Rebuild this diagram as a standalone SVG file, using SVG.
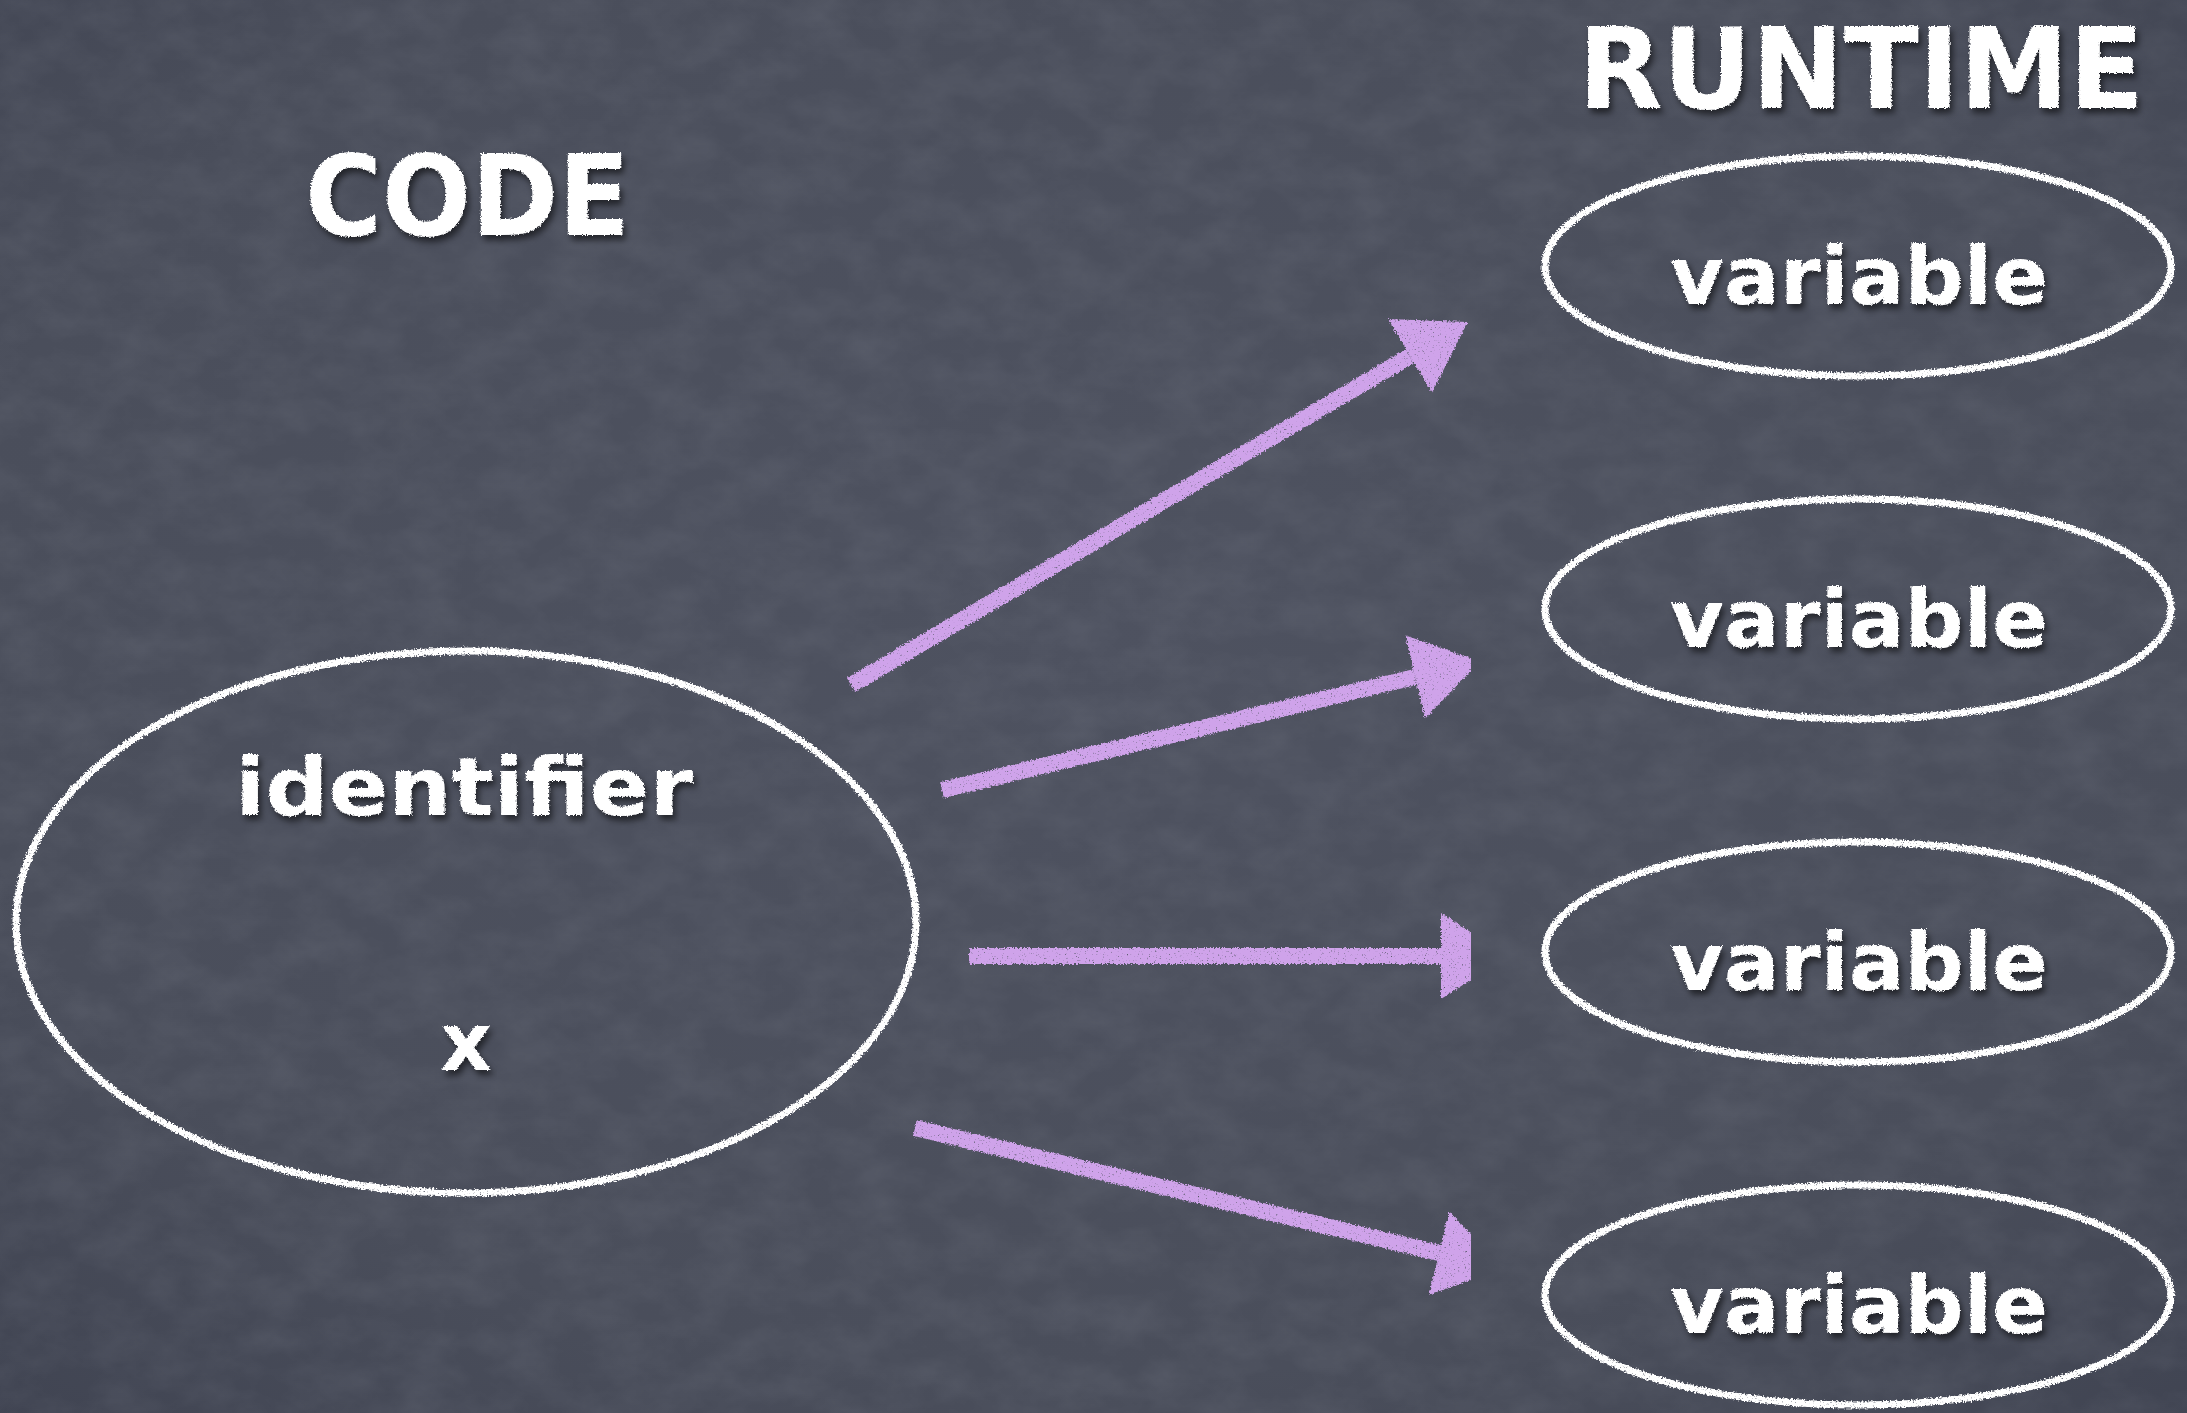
<svg xmlns="http://www.w3.org/2000/svg" width="2187" height="1413" viewBox="0 0 2187 1413">
  <defs>
    <radialGradient id="board" cx="0.5" cy="0.45" r="0.75">
      <stop offset="0" stop-color="#4e5260"/>
      <stop offset="0.7" stop-color="#4a4e5b"/>
      <stop offset="1" stop-color="#404452"/>
    </radialGradient>
    <!-- faint mottled slate texture -->
    <filter id="slate" x="0" y="0" width="100%" height="100%">
      <feTurbulence type="fractalNoise" baseFrequency="0.02 0.03" numOctaves="4" seed="7" result="n"/>
      <feColorMatrix in="n" type="matrix" values="0 0 0 0 0.72  0 0 0 0 0.75  0 0 0 0 0.82  0.12 0 0 0 -0.04"/>
    </filter>
    <!-- rough chalk edge for strokes -->
    <filter id="chalk" x="-5%" y="-5%" width="110%" height="110%">
      <feTurbulence type="fractalNoise" baseFrequency="0.55" numOctaves="2" seed="3" result="n"/>
      <feDisplacementMap in="SourceGraphic" in2="n" scale="5" xChannelSelector="R" yChannelSelector="G" result="d"/>
      <feColorMatrix in="n" type="matrix" values="0 0 0 0 0  0 0 0 0 0  0 0 0 0 0  -4 0 0 0 3.6" result="holes"/>
      <feComposite in="d" in2="holes" operator="in"/>
    </filter>
    <!-- chalk lettering with a soft shadow under it -->
    <filter id="chalkText" x="-10%" y="-20%" width="120%" height="150%">
      <feTurbulence type="fractalNoise" baseFrequency="0.6" numOctaves="2" seed="5" result="n"/>
      <feDisplacementMap in="SourceGraphic" in2="n" scale="3.5" xChannelSelector="R" yChannelSelector="G" result="d"/>
      <feGaussianBlur in="d" stdDeviation="3" result="b"/>
      <feOffset in="b" dx="3" dy="5" result="o"/>
      <feColorMatrix in="o" type="matrix" values="0 0 0 0 0  0 0 0 0 0  0 0 0 0 0  0 0 0 0.55 0" result="sh"/>
      <feMerge>
        <feMergeNode in="sh"/>
        <feMergeNode in="d"/>
      </feMerge>
    </filter>
    <marker id="head" markerUnits="userSpaceOnUse" markerWidth="72" markerHeight="92" viewBox="0 -46 72 92" refX="0" refY="0" orient="auto">
      <path d="M0,-43 L67,0 L0,43 Z" fill="#cfa3ea"/>
    </marker>
    <style>
      .ring { fill: none; stroke: #ffffff; stroke-width: 7; filter: url(#chalk); }
      .word { fill: #ffffff; font-family: "DejaVu Sans", "Noto Sans", sans-serif; font-weight: bold; filter: url(#chalkText); }
      .title { font-size: 112px; }
      .label { font-size: 80px; text-anchor: middle; }
      .arrow { fill: none; stroke: #cfa3ea; stroke-width: 16; marker-end: url(#head); }
    </style>
  </defs>

  <!-- chalkboard -->
  <rect width="2187" height="1413" fill="url(#board)"/>
  <rect width="2187" height="1413" filter="url(#slate)"/>

  <!-- headings -->
  <text class="word title" x="305" y="235" textLength="325" lengthAdjust="spacingAndGlyphs">CODE</text>
  <text class="word title" x="1578" y="108" textLength="566" lengthAdjust="spacingAndGlyphs">RUNTIME</text>

  <!-- source-side node -->
  <g id="identifier">
    <ellipse class="ring" cx="466" cy="922" rx="450" ry="271"/>
    <text class="word label" x="464" y="815" textLength="458" lengthAdjust="spacingAndGlyphs">identifier</text>
    <text class="word label" x="466" y="1070">x</text>
  </g>

  <!-- runtime nodes -->
  <g id="variable1">
    <ellipse class="ring" cx="1858" cy="266" rx="313" ry="110"/>
    <text class="word label" x="1859" y="304" textLength="378" lengthAdjust="spacingAndGlyphs">variable</text>
  </g>
  <g id="variable2">
    <ellipse class="ring" cx="1858" cy="609" rx="313" ry="110"/>
    <text class="word label" x="1859" y="647" textLength="378" lengthAdjust="spacingAndGlyphs">variable</text>
  </g>
  <g id="variable3">
    <ellipse class="ring" cx="1858" cy="952" rx="313" ry="110"/>
    <text class="word label" x="1859" y="990" textLength="378" lengthAdjust="spacingAndGlyphs">variable</text>
  </g>
  <g id="variable4">
    <ellipse class="ring" cx="1858" cy="1295" rx="313" ry="110"/>
    <text class="word label" x="1859" y="1333" textLength="378" lengthAdjust="spacingAndGlyphs">variable</text>
  </g>

  <!-- connectors -->
  <g id="connectors" filter="url(#chalk)">
    <path class="arrow" d="M851,685 L1410,356"/>
    <path class="arrow" d="M942,790 L1415,677"/>
    <path class="arrow" d="M969,956 L1441,956"/>
    <path class="arrow" d="M915,1128 L1439,1253"/>
  </g>
</svg>
